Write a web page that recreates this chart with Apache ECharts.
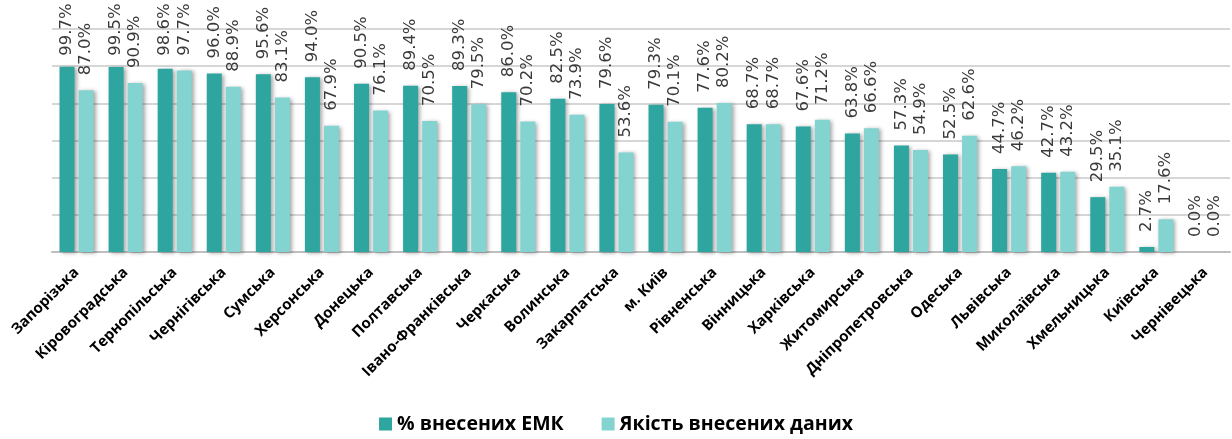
<!DOCTYPE html>
<html>
<head>
<meta charset="utf-8">
<script src="https://cdn.jsdelivr.net/npm/echarts@6/dist/echarts.min.js"></script>
<style>
  html, body { margin: 0; padding: 0; background: #fff; }
  #chart { width: 1232px; height: 439px; }
</style>
</head>
<body>
<div id="chart"></div>
<script>
// області
const regions = [
  'Запорізька', 'Кіровоградська', 'Тернопільська', 'Чернігівська', 'Сумська',
  'Херсонська', 'Донецька', 'Полтавська', 'Івано-Франківська', 'Черкаська',
  'Волинська', 'Закарпатська', 'м. Київ', 'Рівненська', 'Вінницька',
  'Харківська', 'Житомирська', 'Дніпропетровська', 'Одеська', 'Львівська',
  'Миколаївська', 'Хмельницька', 'Київська', 'Чернівецька'
]

// % внесених ЕМК
const entered = [
  99.7, 99.5, 98.6, 96.0, 95.6, 94.0, 90.5, 89.4, 89.3, 86.0, 82.5, 79.6,
  79.3, 77.6, 68.7, 67.6, 63.8, 57.3, 52.5, 44.7, 42.7, 29.5, 2.7, 0.0
]

// Якість внесених даних
const quality = [
  87.0, 90.9, 97.7, 88.9, 83.1, 67.9, 76.1, 70.5, 79.5, 70.2, 73.9, 53.6,
  70.1, 80.2, 68.7, 71.2, 66.6, 54.9, 62.6, 46.2, 43.2, 35.1, 17.6, 0.0
]

const seriesNames = ['% внесених ЕМК', 'Якість внесених даних']
const colors = ['#2ea59f', '#83d3d0']

const chart = echarts.init(document.getElementById('chart'))

// підписи не виходять за верхній край
function labelDist(v) {
  return Math.max(4, Math.min(15, 196 - v * 1.855))
}

function withLabels(values) {
  return values.map(v => ({ value: v, label: { distance: labelDist(v) } }))
}

function barSeries(name, values, color) {
  return {
    name: name,
    type: 'bar',
    barWidth: 15,
    barGap: '27%',
    data: withLabels(values),
    itemStyle: {
      color: color,
      shadowColor: 'rgba(0, 0, 0, 0.35)',
      shadowBlur: 4,
      shadowOffsetX: 2,
      shadowOffsetY: 1
    },
    label: {
      show: true,
      position: 'top',
      rotate: 90,
      align: 'left',
      verticalAlign: 'middle',
      formatter: p => p.value.toFixed(1) + '%',
      fontFamily: 'DejaVu Sans',
      fontSize: 16.5,
      color: '#3a3a3a'
    }
  }
}

chart.setOption({
  animation: false,
  grid: {
    left: 52,
    right: 2,
    top: 29,
    bottom: 187
  },
  legend: {
    bottom: 0,
    left: 'center',
    icon: 'rect',
    itemWidth: 13,
    itemHeight: 13,
    itemGap: 38,
    textStyle: {
      fontFamily: 'Open Sans',
      fontWeight: 'bold',
      fontSize: 19.5,
      color: '#000'
    },
    data: seriesNames
  },
  xAxis: {
    type: 'category',
    data: regions,
    axisTick: { show: false },
    axisLine: { lineStyle: { color: '#bfbfbf', width: 2 } },
    axisLabel: {
      interval: 0,
      rotate: 45,
      margin: 18,
      fontFamily: 'Open Sans',
      fontWeight: 'bold',
      fontSize: 15,
      color: '#000'
    }
  },
  yAxis: {
    type: 'value',
    min: 0,
    max: 120,
    interval: 20,
    axisLabel: { show: false },
    axisLine: { show: false },
    axisTick: { show: false },
    splitLine: { lineStyle: { color: '#d6d6d6', width: 2 } }
  },
  series: [
    barSeries(seriesNames[0], entered, colors[0]),
    barSeries(seriesNames[1], quality, colors[1])
  ]
})
</script>
</body>
</html>
